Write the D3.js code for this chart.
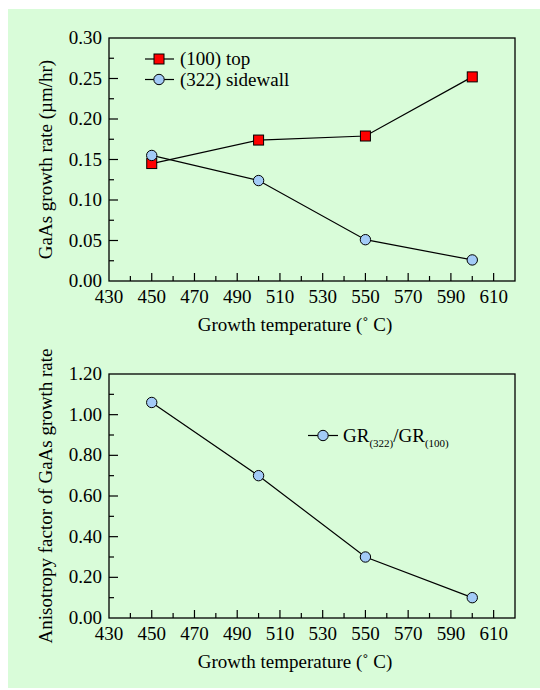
<!DOCTYPE html>
<html>
<head>
<meta charset="utf-8">
<script src="https://cdn.jsdelivr.net/npm/d3@7"></script>
<style>
    body { margin: 0; background: #fff; }
</style>
</head>
<body>
<svg id="chart" width="540" height="690"></svg>
<script>
// Data
const temps = [450, 500, 550, 600];
const topRate = [0.145, 0.174, 0.179, 0.252];       // (100) top
const sideRate = [0.155, 0.124, 0.051, 0.026];      // (322) sidewall
const anisotropy = [1.06, 0.70, 0.30, 0.10];        // GR(322)/GR(100)

const xTicks = [430, 450, 470, 490, 510, 530, 550, 570, 590, 610];
const topYTicks = [0, 0.05, 0.10, 0.15, 0.20, 0.25, 0.30];
const botYTicks = [0, 0.2, 0.4, 0.6, 0.8, 1.0, 1.2];

const svg = d3.select("#chart");
const font = "'Times New Roman', Times, 'Liberation Serif', 'DejaVu Serif', serif";

// light green panel
svg.append("rect")
    .attr("x", 8).attr("y", 9)
    .attr("width", 532).attr("height", 679)
    .attr("fill", "#d9fcd9");

const left = 109, right = 515;
const fs = 19;
const sqColor = "#ff0000", circColor = "#a3cbf7";

function txt(g) {
    return g.append("text")
        .style("font-family", font)
        .style("font-size", fs + "px")
        .attr("fill", "#000");
}

function drawPanel(opt) {
    let x = d3.scaleLinear().domain([430, 620]).range([left, right]);
    let y = d3.scaleLinear().domain(opt.yDomain).range([opt.bottom, opt.top]);

    let g = svg.append("g");

    // frame
    g.append("rect")
        .attr("x", left).attr("y", opt.top)
        .attr("width", right - left).attr("height", opt.bottom - opt.top)
        .attr("fill", "none").attr("stroke", "#000").attr("stroke-width", 1.3);

    // x ticks (inward)
    let xMinor = d3.range(440, 620, 10);
    g.selectAll(".xt").data(xMinor).enter()
        .append("line")
        .attr("x1", d => x(d)).attr("x2", d => x(d))
        .attr("y1", opt.bottom)
        .attr("y2", d => opt.bottom - ((d - 430) % 20 === 0 ? 8 : 5))
        .attr("stroke", "#000").attr("stroke-width", 1.2);

    xTicks.forEach(function (d) {
        txt(g).attr("x", x(d))
            .attr("y", opt.bottom + 22)
            .attr("text-anchor", "middle")
            .text(d);
    });

    // y ticks (inward)
    let step = opt.yTicks[1] - opt.yTicks[0];
    let yMinor = d3.range(1, opt.yTicks.length * 2 - 2).map(i => i * step / 2);
    g.selectAll(".yt").data(yMinor).enter()
        .append("line")
        .attr("x1", left)
        .attr("x2", (d, i) => left + (i % 2 === 1 ? 9 : 5))
        .attr("y1", d => y(d)).attr("y2", d => y(d))
        .attr("stroke", "#000").attr("stroke-width", 1.2);

    opt.yTicks.forEach(function (d) {
        txt(g).attr("x", left - 7)
            .attr("y", y(d) + 6)
            .attr("text-anchor", "end")
            .text(d.toFixed(2));
    });

    // axis titles
    txt(g).attr("x", 295)
        .attr("y", opt.bottom + 50)
        .attr("text-anchor", "middle")
        .text("Growth temperature (\u02DA C)");

    txt(g).attr("transform", "translate(52," + ((opt.top + opt.bottom) / 2) + ") rotate(-90)")
        .attr("text-anchor", "middle")
        .text(opt.yTitle);

    return {x: x, y: y, g: g};
}

function drawLine(p, vals) {
    let line = d3.line()
        .x((d, i) => p.x(temps[i]))
        .y(d => p.y(d));
    p.g.append("path")
        .datum(vals)
        .attr("d", line)
        .attr("fill", "none")
        .attr("stroke", "#000")
        .attr("stroke-width", 1.2);
}

function squares(p, vals) {
    p.g.selectAll(".sq").data(vals).enter()
        .append("rect")
        .attr("x", (d, i) => p.x(temps[i]) - 5)
        .attr("y", d => p.y(d) - 5)
        .attr("width", 10).attr("height", 10)
        .attr("fill", sqColor)
        .attr("stroke", "#000").attr("stroke-width", 1);
}

function circles(p, vals) {
    p.g.selectAll(".ci").data(vals).enter()
        .append("circle")
        .attr("cx", (d, i) => p.x(temps[i]))
        .attr("cy", d => p.y(d))
        .attr("r", 5.2)
        .attr("fill", circColor)
        .attr("stroke", "#000").attr("stroke-width", 1);
}

// Top panel
let p1 = drawPanel({
    top: 38, bottom: 281, yDomain: [0, 0.3], yTicks: topYTicks,
    yTitle: "GaAs growth rate (\u00B5m/hr)"
});
drawLine(p1, topRate);
drawLine(p1, sideRate);
squares(p1, topRate);
circles(p1, sideRate);

// legend top
[["(100) top", "sq", 59], ["(322) sidewall", "ci", 79.5]].forEach(function (e) {
    p1.g.append("line")
        .attr("x1", 145).attr("x2", 174)
        .attr("y1", e[2]).attr("y2", e[2])
        .attr("stroke", "#000").attr("stroke-width", 1.2);
    if (e[1] === "sq") {
        p1.g.append("rect")
            .attr("x", 154).attr("y", e[2] - 5)
            .attr("width", 10).attr("height", 10)
            .attr("fill", sqColor).attr("stroke", "#000");
    } else {
        p1.g.append("circle")
            .attr("cx", 159).attr("cy", e[2]).attr("r", 5.2)
            .attr("fill", circColor).attr("stroke", "#000");
    }
    txt(p1.g).attr("x", 180).attr("y", e[2] + 6)
        .text(e[0]);
});

// Bottom panel
let p2 = drawPanel({
    top: 374, bottom: 618, yDomain: [0, 1.2], yTicks: botYTicks,
    yTitle: "Anisotropy factor of GaAs growth rate"
});
drawLine(p2, anisotropy);
circles(p2, anisotropy);

// legend bottom
p2.g.append("line")
    .attr("x1", 308).attr("x2", 338)
    .attr("y1", 435.5).attr("y2", 435.5)
    .attr("stroke", "#000").attr("stroke-width", 1.2);
p2.g.append("circle")
    .attr("cx", 323).attr("cy", 435.5).attr("r", 5.2)
    .attr("fill", circColor).attr("stroke", "#000");
let lt = txt(p2.g).attr("x", 343).attr("y", 442);
lt.append("tspan").text("GR");
lt.append("tspan").style("font-size", "11px").attr("dy", 5).text("(322)");
lt.append("tspan").attr("dy", -5).text("/GR");
lt.append("tspan").style("font-size", "11px").attr("dy", 5).text("(100)");
</script>
</body>
</html>
